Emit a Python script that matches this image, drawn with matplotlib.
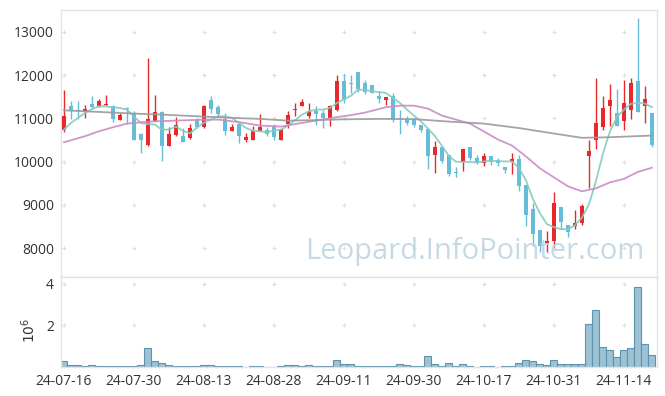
import matplotlib
matplotlib.use("Agg")
import matplotlib.pyplot as plt
import numpy as np

plt.rcParams['font.family'] = ['Open Sans', 'DejaVu Sans']

# --- data (one entry per trading day) ---
opens = [10726, 11295, 11203, 11180, 11341, 11279, 11302, 11295, 10972, 11242,
         11134, 10650, 10396, 10949, 11150, 10357, 10627, 10604, 10551, 10957,
         10795, 11433, 11265, 10995, 10703, 10880, 10512, 10496, 10703, 10742,
         10834, 10496, 10880, 11203, 11279, 11049, 11180, 11127, 11012, 11187,
         11871, 11810, 12071, 11818, 11779, 11509, 11417, 11509, 11012, 10995,
         10995, 10857, 10765, 10150, 10334, 10150, 9760, 9989, 10334, 10090,
         9975, 10127, 10028, 9874, 9989, 10051, 9452, 8899, 8415, 8108,
         8168, 8961, 8530, 8514, 8592, 10127, 10512, 10795, 11295, 11127,
         10934, 11187, 11871, 11279, 11127]
highs = [11664, 11394, 11394, 11318, 11509, 11449, 11548, 11310, 11127, 11260,
         11164, 10660, 12394, 11532, 11164, 10795, 11026, 10781, 10880, 11011,
         11318, 11509, 11318, 11134, 10880, 10880, 10656, 10818, 11111, 10795,
         10880, 10765, 11164, 11357, 11449, 11357, 11295, 11203, 11318, 12009,
         12032, 12009, 12071, 11878, 11779, 11641, 11495, 11587, 11187, 11050,
         10995, 10857, 10765, 10489, 10334, 10150, 9867, 10281, 10334, 10143,
         10205, 10127, 10074, 9874, 10189, 10143, 9452, 9037, 8415, 8399,
         9297, 8961, 8530, 8876, 9015, 10512, 11933, 11509, 11795, 11680,
         11894, 11933, 13316, 11756, 11127]
lows = [10680, 10989, 10995, 11012, 11219, 11265, 11290, 10926, 10956, 10880,
        10496, 10205, 10358, 10949, 10012, 10357, 10604, 10450, 10528, 10781,
        10781, 11127, 11058, 10611, 10703, 10435, 10443, 10496, 10703, 10604,
        10497, 10496, 10781, 11049, 11279, 11012, 10857, 10781, 10834, 11164,
        11357, 11587, 11611, 11572, 11587, 11357, 11302, 10910, 10650, 10850,
        10800, 10680, 9837, 9746, 9959, 9666, 9636, 9781, 10028, 9936,
        9897, 9930, 9897, 9744, 9705, 9320, 8514, 8054, 7901, 7901,
        8016, 8438, 8246, 8438, 8530, 9399, 10281, 10726, 10834, 10834,
        10742, 10989, 11141, 10896, 10343]
closes = [11049, 11180, 11164, 11226, 11265, 11394, 11341, 10995, 11088, 11219,
          10496, 10496, 10995, 11150, 10357, 10650, 10857, 10450, 10781, 10795,
          11295, 11226, 11111, 10703, 10803, 10588, 10574, 10719, 10795, 10650,
          10574, 10765, 11088, 11226, 11372, 11180, 11111, 11012, 11295, 11871,
          11417, 11795, 11687, 11611, 11587, 11456, 11495, 10957, 10989, 10896,
          10841, 10742, 10127, 10334, 10012, 9721, 9730, 10281, 10074, 9975,
          10127, 9989, 9959, 9797, 10051, 9436, 8768, 8323, 8039, 8168,
          9037, 8615, 8362, 8592, 8975, 10242, 10896, 11242, 11433, 10834,
          11357, 11818, 11141, 11456, 10396]
volumes_m = [0.29, 0.10, 0.10, 0.06, 0.10, 0.06, 0.06, 0.06, 0.06, 0.06,
             0.06, 0.10, 0.90, 0.30, 0.20, 0.10, 0.06, 0.06, 0.06, 0.06,
             0.10, 0.10, 0.06, 0.06, 0.06, 0.06, 0.02, 0.06, 0.06, 0.02,
             0.02, 0.06, 0.10, 0.10, 0.06, 0.10, 0.06, 0.06, 0.06, 0.33,
             0.13, 0.13, 0.06, 0.06, 0.06, 0.06, 0.06, 0.06, 0.13, 0.10,
             0.06, 0.06, 0.52, 0.13, 0.03, 0.18, 0.03, 0.13, 0.03, 0.01,
             0.06, 0.06, 0.01, 0.06, 0.06, 0.18, 0.33, 0.29, 0.13, 0.10,
             0.33, 0.13, 0.13, 0.13, 0.13, 2.08, 2.75, 0.94, 0.81, 0.46,
             0.84, 0.89, 3.86, 1.10, 0.57]

# short moving average (every day)
ma_short = [10742, 10896, 11012, 11127, 11219, 11279, 11279, 11256, 11242, 11203,
            11042, 10892, 10869, 10857, 10735, 10742, 10811, 10712, 10655, 10788,
            10903, 10972, 11049, 11049, 11012, 10896, 10781, 10712, 10703, 10680,
            10719, 10742, 10834, 10956, 11088, 11164, 11203, 11203, 11242, 11357,
            11445, 11525, 11664, 11664, 11625, 11611, 11588, 11472, 11357, 11203,
            11065, 10933, 10765, 10588, 10367, 10127, 9998, 9993, 9993, 9982,
            10005, 10028, 10012, 10005, 10005, 9855, 9567, 9129, 8807, 8553,
            8484, 8438, 8438, 8530, 8708, 9014, 9551, 10189, 10703, 11030,
            11203, 11337, 11357, 11341, 11260]
# mid moving average (read at selected days)
ma_mid_idx = [0, 3, 5, 7, 9, 11, 13, 16, 20, 22, 25, 28, 31, 33, 36, 39, 41, 43,
              46, 48, 50, 52, 54, 56, 58, 60, 62, 64, 66, 68, 70, 72, 74, 76, 78,
              80, 82, 84]
ma_mid = [10449, 10588, 10703, 10795, 10880, 10910, 10933, 10949, 10972, 10972,
          10915, 10834, 10811, 10869, 10949, 11030, 11076, 11134, 11260, 11295,
          11295, 11226, 11065, 10972, 10880, 10696, 10512, 10373, 10120, 9844,
          9636, 9429, 9314, 9383, 9521, 9602, 9763, 9860]
# long moving average (read at selected days)
ma_long_idx = [0, 5, 10, 14, 19, 24, 28, 32, 36, 40, 45, 50, 55, 60, 65, 70, 74, 78, 84]
ma_long = [11187, 11150, 11111, 11088, 11049, 11012, 10989, 10949, 10961, 10979,
           10989, 10984, 10926, 10880, 10777, 10650, 10551, 10565, 10604]

tick_pos = [0, 10, 20, 30, 40, 50, 60, 70, 80]
tick_labels = ["24-07-16", "24-07-30", "24-08-13", "24-08-28", "24-09-11",
               "24-09-30", "24-10-17", "24-10-31", "24-11-14"]
price_ticks = [8000, 9000, 10000, 11000, 12000, 13000]

RED = "#e8292c"
BLUE = "#66bdd8"
FRAME = "#e3e3e3"
TXT = "#333333"

fig = plt.figure(figsize=(6.65, 3.96), dpi=100)
ax = fig.add_axes([0.0917, 0.3005, 0.8962, 0.6742])
axv = fig.add_axes([0.0917, 0.0732, 0.8962, 0.2273])

x = np.arange(len(opens))
o = np.array(opens); c = np.array(closes)
colors = [RED if cc >= oo else BLUE for oo, cc in zip(opens, closes)]

# candles
ax.vlines(x, lows, highs, colors=colors, linewidth=1.0, zorder=2)
body_h = np.maximum(np.abs(c - o), 18)
ax.bar(x, body_h, bottom=np.minimum(o, c), width=0.68, color=colors, linewidth=0, zorder=3)

# moving averages
ax.plot(x, ma_short, color="#86cbbf", lw=1.3, alpha=0.9, zorder=4)
ax.plot(ma_mid_idx, ma_mid, color="#c98cc6", lw=1.3, alpha=0.9, zorder=4)
ax.plot(ma_long_idx, ma_long, color="#9a9a9a", lw=1.3, alpha=0.9, zorder=4)

# volume
axv.bar(x, np.array(volumes_m) * 1e6, width=1.0, color="#9cc2d4",
        edgecolor="#5f93ad", linewidth=0.8, zorder=2)

xlim = (-0.43, 84.71)
for a in (ax, axv):
    a.set_xlim(*xlim)
    for s in a.spines.values():
        s.set_color(FRAME)
        s.set_linewidth(1.0)
    a.tick_params(length=0, colors=TXT, labelsize=10, pad=5)

ax.set_ylim(7332, 13507)
ax.set_yticks(price_ticks)
ax.set_xticks(tick_pos)
ax.set_xticklabels([])
gx, gy = np.meshgrid(tick_pos, price_ticks)
ax.scatter(gx.ravel(), gy.ravel(), marker="+", s=12, color="#dedede", lw=0.8, zorder=1)

axv.set_ylim(0, 4.32e6)
axv.set_yticks([2e6, 4e6])
axv.set_yticklabels(["2", "4"])
axv.set_xticks(tick_pos)
axv.set_xticklabels(tick_labels)
gx, gy = np.meshgrid(tick_pos, [2e6, 4e6])
axv.scatter(gx.ravel(), gy.ravel(), marker="+", s=12, color="#dedede", lw=0.8, zorder=1)
fig.text(0.045, 0.165, r"$10^6$", rotation=90, ha="center", va="center",
         fontsize=10, color=TXT)

# watermark
ax.text(0.695, 0.095, "Leopard.InfoPointer.com", transform=ax.transAxes,
        ha="center", va="center", fontsize=21, color="#bcd4e2", alpha=0.85, zorder=5)

fig.savefig("out.png", dpi=100)
